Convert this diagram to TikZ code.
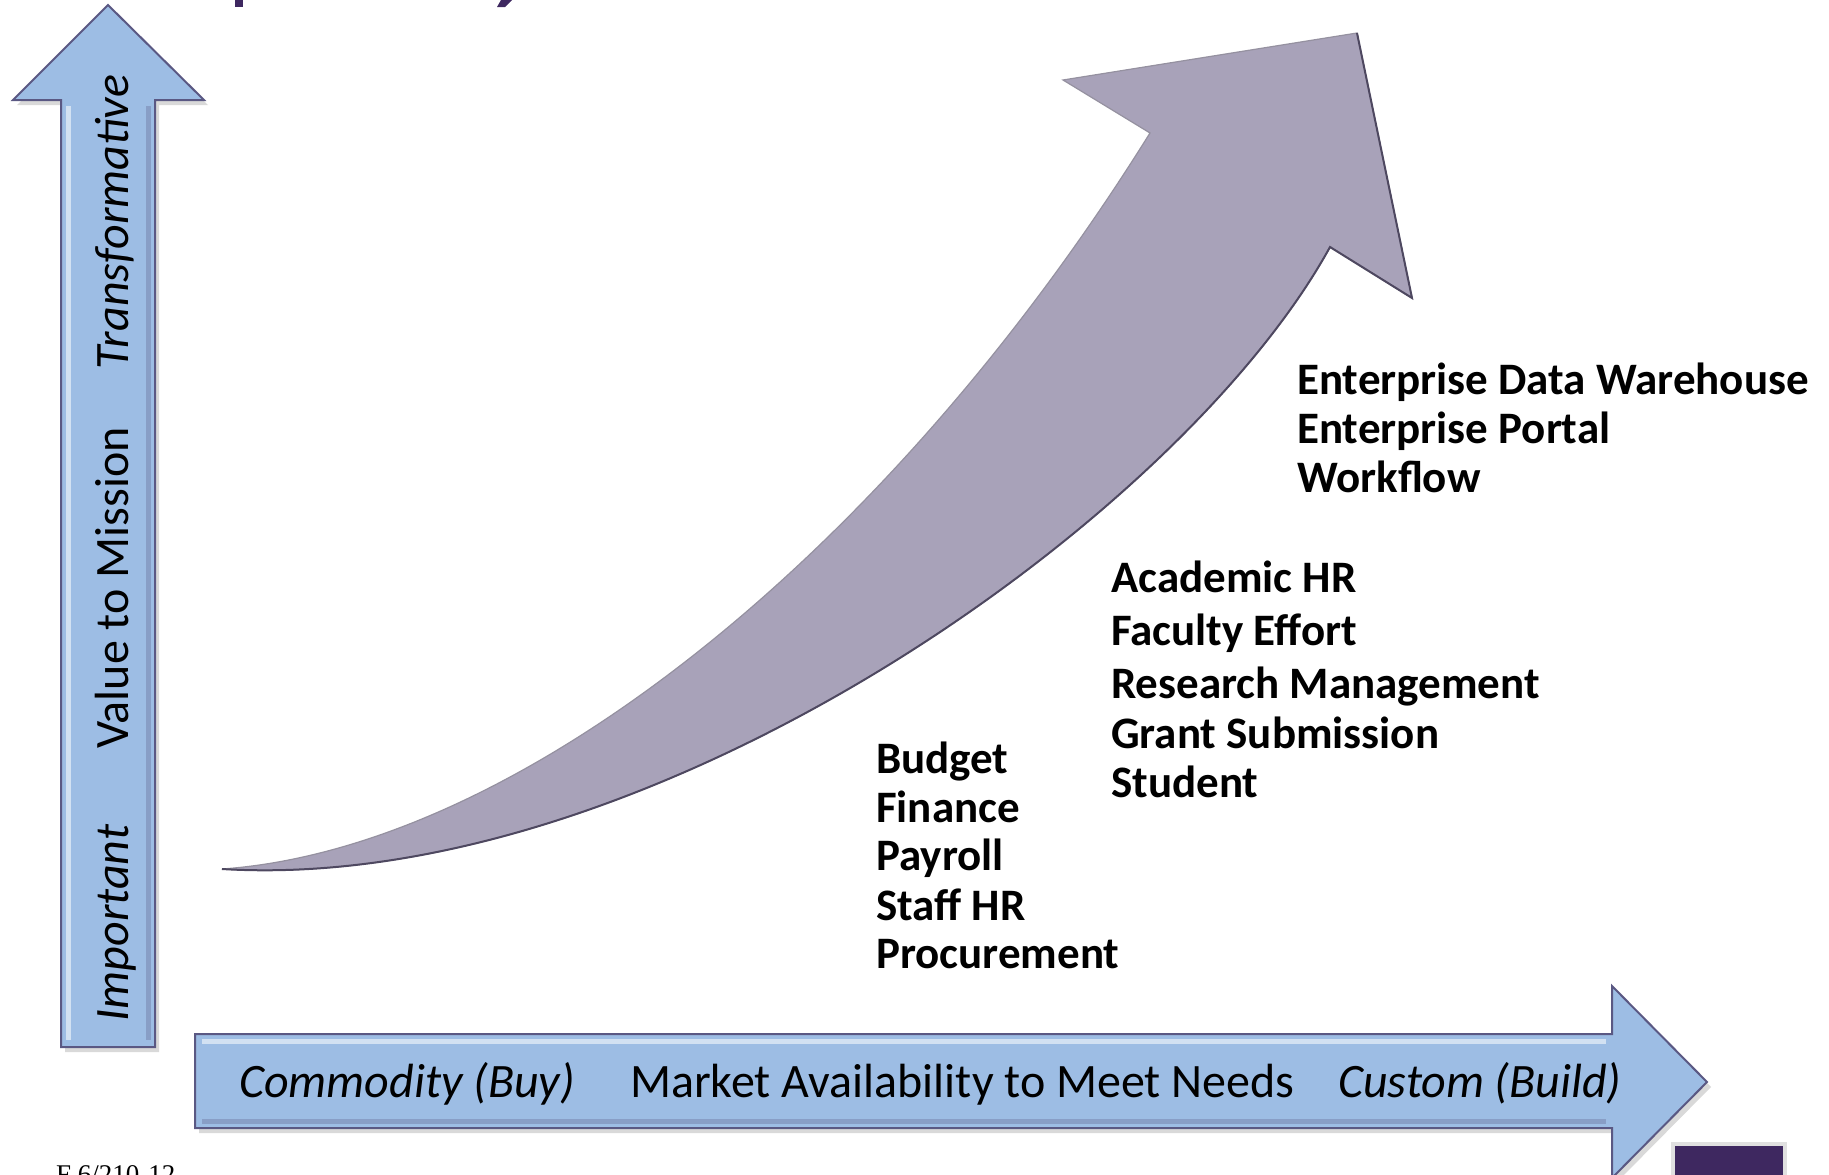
\documentclass[tikz,border=0pt]{standalone}
\usepackage{fontspec}
\setmainfont{Carlito}
\newfontfamily\notefont{Liberation Serif}
\usetikzlibrary{positioning,shadows}

\definecolor{axisblue}{HTML}{9DBDE4}
\definecolor{axisedge}{HTML}{5A5883}
\definecolor{growthfill}{HTML}{A8A2B9}
\definecolor{growthedge}{HTML}{4E4860}
\definecolor{titlepurple}{HTML}{3E2860}

\begin{document}
\begin{tikzpicture}[
    x=1pt, y=-1pt,
    axis/.style={fill=axisblue, draw=axisedge, line width=2pt, line join=miter,
      drop shadow={opacity=0.3, shadow xshift=4pt, shadow yshift=-5pt}},
    bevellight/.style={white, opacity=0.55, line width=5pt},
    beveldark/.style={axisedge, opacity=0.3, line width=5pt},
    growth/.style={fill=growthfill, draw=growthedge!60, line width=1.2pt, line join=miter},
    axislabel/.style={font=\fontsize{48}{50}\selectfont, inner sep=0pt},
    axisital/.style={font=\fontsize{48}{50}\selectfont\itshape, inner sep=0pt},
    item/.style={font=\fontsize{45}{49}\selectfont\bfseries, anchor=base west, inner sep=0pt},
  ]
  \useasboundingbox (0,0) rectangle (1829,1175);
  \clip (0,0) rectangle (1829,1175);

  % ============================================================
  % Title remnants (cut at the top edge)
  % ============================================================
  \fill[titlepurple] (235,0) rectangle (243,7);
  \fill[titlepurple] (501,0) -- (512,0) -- (505,7) -- (497,7) -- cycle;

  % ============================================================
  % Vertical axis: value to mission
  % ============================================================
  \path[axis] (108,5) -- (204,100) -- (155,100) -- (155,1047)
    -- (61,1047) -- (61,100) -- (13,100) -- cycle;
  \draw[bevellight] (68,1040) -- (68,106);
  \draw[beveldark] (148,106) -- (148,1040);

  \node[axisital, rotate=90, anchor=base] (vlow) at (128,923) {Important};
  \node[axislabel, rotate=90, anchor=base] (vmid) at (128,588) {Value to Mission};
  \node[axisital, rotate=90, anchor=base] (vhigh) at (128,222) {Transformative};

  % ============================================================
  % Horizontal axis: market availability
  % ============================================================
  \path[axis] (1707,1082) -- (1612,1178) -- (1612,1128) -- (195,1128)
    -- (195,1034) -- (1612,1034) -- (1612,986) -- cycle;
  \draw[bevellight] (202,1041) -- (1606,1041);
  \draw[beveldark] (202,1121) -- (1606,1121);

  \node[axisital, anchor=base west] (hlow) at (239,1097) {Commodity (Buy)};
  \node[axislabel, anchor=base west] (hmid) at (630,1097) {Market Availability to Meet Needs};
  \node[axisital, anchor=base west] (hhigh) at (1338,1097) {Custom (Build)};

  % ============================================================
  % Growth arrow
  % ============================================================
  \path[growth] (222,869) .. controls (520,848) and (889,552) .. (1150,133)
    -- (1063,80) -- (1357,33) -- (1412,298) -- (1330,247)
    .. controls (1180,520) and (650,895) .. (222,869) -- cycle;
  \draw[growthedge, line width=2pt] (1357,33) -- (1412,298) -- (1330,247)
    .. controls (1180,520) and (650,895) .. (222,869);

  % ============================================================
  % Application groups
  % ============================================================
  \foreach \i/\t/\y in {1/Budget/773, 2/Finance/822, 3/Payroll/870,
                        4/Staff HR/920, 5/Procurement/968} {
    \node[item] (core\i) at (876,\y) {\t};
  }
  \foreach \i/\t/\y in {1/Academic HR/592, 2/Faculty Effort/645,
                        3/Research Management/698, 4/Grant Submission/748,
                        5/Student/797} {
    \node[item] (mid\i) at (1111,\y) {\t};
  }
  \foreach \i/\t/\y in {1/Enterprise Data Warehouse/394,
                        2/Enterprise Portal/443, 3/Workflow/492} {
    \node[item] (ent\i) at (1297,\y) {\t};
  }

  % ============================================================
  % Footer
  % ============================================================
  \node[font=\notefont\fontsize{27}{30}\selectfont, anchor=base west, inner sep=0pt]
    (note) at (56,1183) {F 6/210-12};
  \fill[black!12] (1671,1142) rectangle (1787,1175);
  \fill[titlepurple] (1675,1146) rectangle (1783,1175);

\end{tikzpicture}
\end{document}
